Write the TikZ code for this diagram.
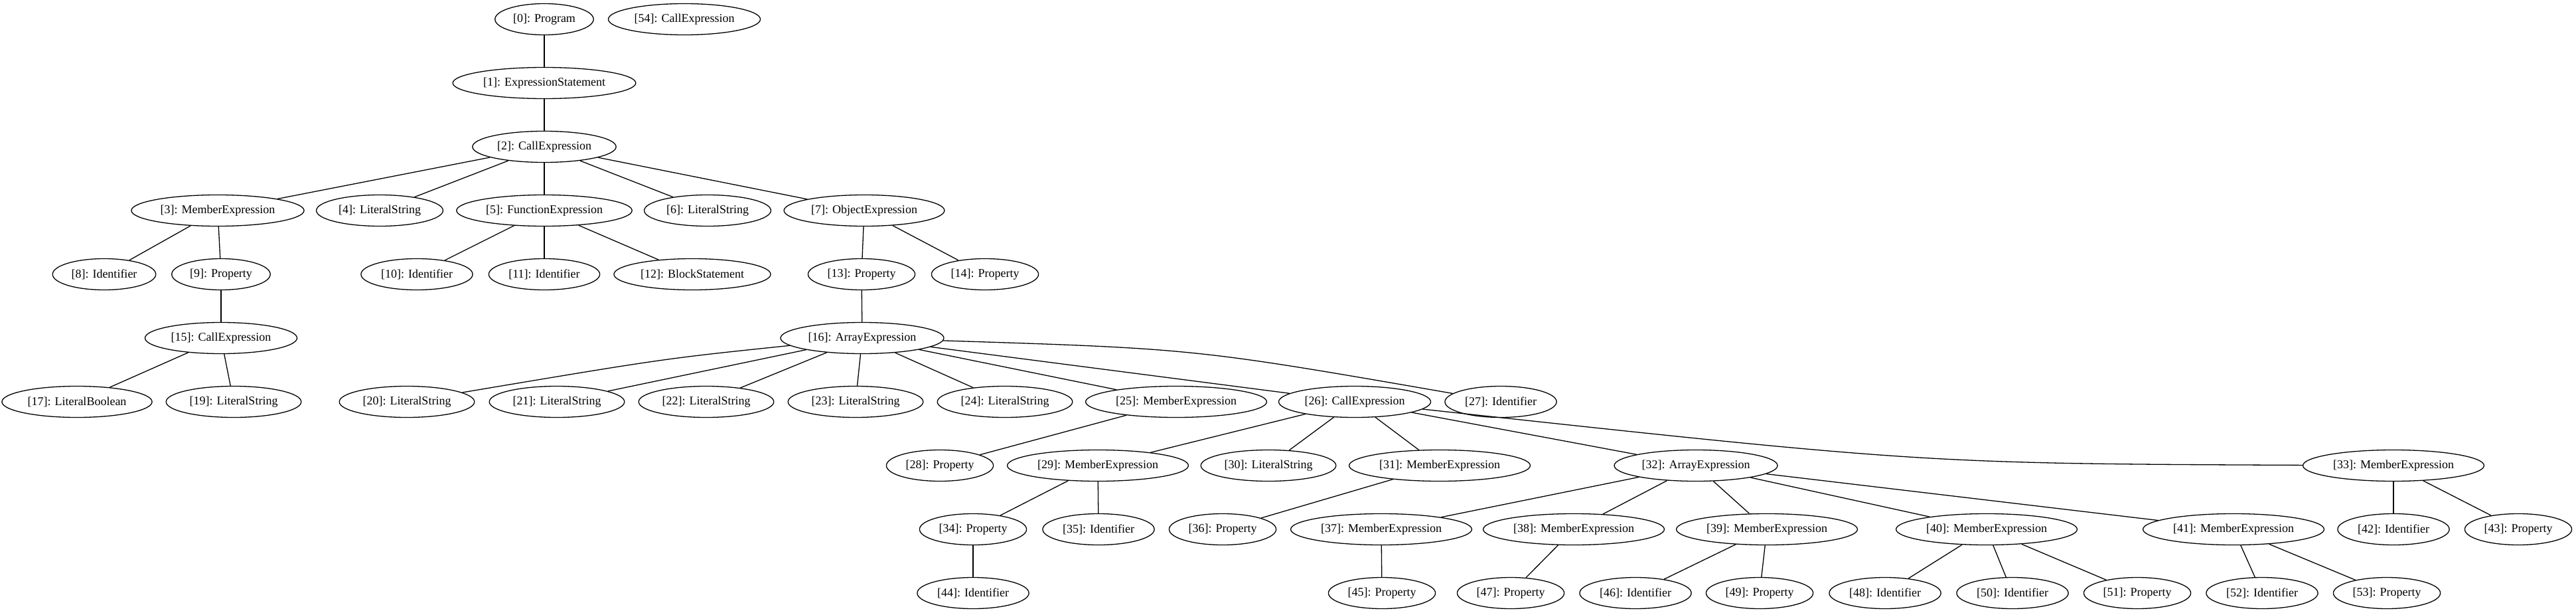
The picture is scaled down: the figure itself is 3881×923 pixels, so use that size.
\documentclass[tikz,border=0pt]{standalone}
\usepackage{fontspec}
\setmainfont{Liberation Serif}
\usepackage{tikz}
\usetikzlibrary{shapes.geometric}
\tikzstyle{astnode} = [ellipse, draw, line width=1.3pt, inner xsep=5.5pt, minimum height=47pt, font=\fontsize{18}{20}\selectfont]
\tikzstyle{link} = [line width=1.3pt]

\begin{document}
\begin{tikzpicture}[x=1pt, y=-1pt]
\useasboundingbox (0,0) rectangle (3881,923);

\node (n0) [astnode] at (820,29) {[0]: Program};
\node (n54) [astnode] at (1031,29) {[54]: CallExpression};
\node (n1) [astnode] at (820,125) {[1]: ExpressionStatement};
\node (n2) [astnode] at (820,221) {[2]: CallExpression};

\node (n3) [astnode] at (328,317) {[3]: MemberExpression};
\node (n4) [astnode] at (572,317) {[4]: LiteralString};
\node (n5) [astnode] at (820,317) {[5]: FunctionExpression};
\node (n6) [astnode] at (1066,317) {[6]: LiteralString};
\node (n7) [astnode] at (1302,317) {[7]: ObjectExpression};

\node (n8) [astnode] at (157,413) {[8]: Identifier};
\node (n9) [astnode] at (333,413) {[9]: Property};
\node (n10) [astnode] at (628,413) {[10]: Identifier};
\node (n11) [astnode] at (820,413) {[11]: Identifier};
\node (n12) [astnode] at (1043,413) {[12]: BlockStatement};
\node (n13) [astnode] at (1298,413) {[13]: Property};
\node (n14) [astnode] at (1484,413) {[14]: Property};

\node (n15) [astnode] at (333,509) {[15]: CallExpression};
\node (n16) [astnode] at (1299,509) {[16]: ArrayExpression};

\node (n17) [astnode] at (116,605) {[17]: LiteralBoolean};
\node (n19) [astnode] at (352,605) {[19]: LiteralString};
\node (n20) [astnode] at (613,605) {[20]: LiteralString};
\node (n21) [astnode] at (839,605) {[21]: LiteralString};
\node (n22) [astnode] at (1064,605) {[22]: LiteralString};
\node (n23) [astnode] at (1289,605) {[23]: LiteralString};
\node (n24) [astnode] at (1514,605) {[24]: LiteralString};
\node (n25) [astnode] at (1772,605) {[25]: MemberExpression};
\node (n26) [astnode] at (2041,605) {[26]: CallExpression};
\node (n27) [astnode] at (2261,605) {[27]: Identifier};

\node (n28) [astnode] at (1416,701) {[28]: Property};
\node (n29) [astnode] at (1654,701) {[29]: MemberExpression};
\node (n30) [astnode] at (1911,701) {[30]: LiteralString};
\node (n31) [astnode] at (2169,701) {[31]: MemberExpression};
\node (n32) [astnode] at (2555,701) {[32]: ArrayExpression};
\node (n33) [astnode] at (3606,701) {[33]: MemberExpression};

\node (n34) [astnode] at (1466,797) {[34]: Property};
\node (n35) [astnode] at (1655,797) {[35]: Identifier};
\node (n36) [astnode] at (1842,797) {[36]: Property};
\node (n37) [astnode] at (2081,797) {[37]: MemberExpression};
\node (n38) [astnode] at (2371,797) {[38]: MemberExpression};
\node (n39) [astnode] at (2662,797) {[39]: MemberExpression};
\node (n40) [astnode] at (2993,797) {[40]: MemberExpression};
\node (n41) [astnode] at (3365,797) {[41]: MemberExpression};
\node (n42) [astnode] at (3606,797) {[42]: Identifier};
\node (n43) [astnode] at (3794,797) {[43]: Property};

\node (n44) [astnode] at (1466,893) {[44]: Identifier};
\node (n45) [astnode] at (2082,893) {[45]: Property};
\node (n47) [astnode] at (2276,893) {[47]: Property};
\node (n46) [astnode] at (2464,893) {[46]: Identifier};
\node (n49) [astnode] at (2651,893) {[49]: Property};
\node (n48) [astnode] at (2840,893) {[48]: Identifier};
\node (n50) [astnode] at (3032,893) {[50]: Identifier};
\node (n51) [astnode] at (3220,893) {[51]: Property};
\node (n52) [astnode] at (3408,893) {[52]: Identifier};
\node (n53) [astnode] at (3596,893) {[53]: Property};

\draw[link] (n0) -- (n1);
\draw[link] (n1) -- (n2);
\draw[link] (n2) -- (n3);
\draw[link] (n2) -- (n4);
\draw[link] (n2) -- (n5);
\draw[link] (n2) -- (n6);
\draw[link] (n2) -- (n7);
\draw[link] (n3) -- (n8);
\draw[link] (n3) -- (n9);
\draw[link] (n5) -- (n10);
\draw[link] (n5) -- (n11);
\draw[link] (n5) -- (n12);
\draw[link] (n7) -- (n13);
\draw[link] (n7) -- (n14);
\draw[link] (n9) -- (n15);
\draw[link] (n13) -- (n16);
\draw[link] (n15) -- (n17);
\draw[link] (n15) -- (n19);
\draw[link] (n16) .. controls (1000,540) .. (n20);
\draw[link] (n16) -- (n21);
\draw[link] (n16) -- (n22);
\draw[link] (n16) -- (n23);
\draw[link] (n16) -- (n24);
\draw[link] (n16) -- (n25);
\draw[link] (n16) -- (n26);
\draw[link] (n16) .. controls (1800,525) .. (n27);
\draw[link] (n25) -- (n28);
\draw[link] (n26) -- (n29);
\draw[link] (n26) -- (n30);
\draw[link] (n26) -- (n31);
\draw[link] (n26) -- (n32);
\draw[link] (n26) .. controls (2900,698) .. (n33);
\draw[link] (n29) -- (n34);
\draw[link] (n29) -- (n35);
\draw[link] (n31) -- (n36);
\draw[link] (n32) -- (n37);
\draw[link] (n32) -- (n38);
\draw[link] (n32) -- (n39);
\draw[link] (n32) -- (n40);
\draw[link] (n32) -- (n41);
\draw[link] (n33) -- (n42);
\draw[link] (n33) -- (n43);
\draw[link] (n34) -- (n44);
\draw[link] (n37) -- (n45);
\draw[link] (n38) -- (n47);
\draw[link] (n39) -- (n46);
\draw[link] (n39) -- (n49);
\draw[link] (n40) -- (n48);
\draw[link] (n40) -- (n50);
\draw[link] (n40) -- (n51);
\draw[link] (n41) -- (n52);
\draw[link] (n41) -- (n53);

\end{tikzpicture}
\end{document}
